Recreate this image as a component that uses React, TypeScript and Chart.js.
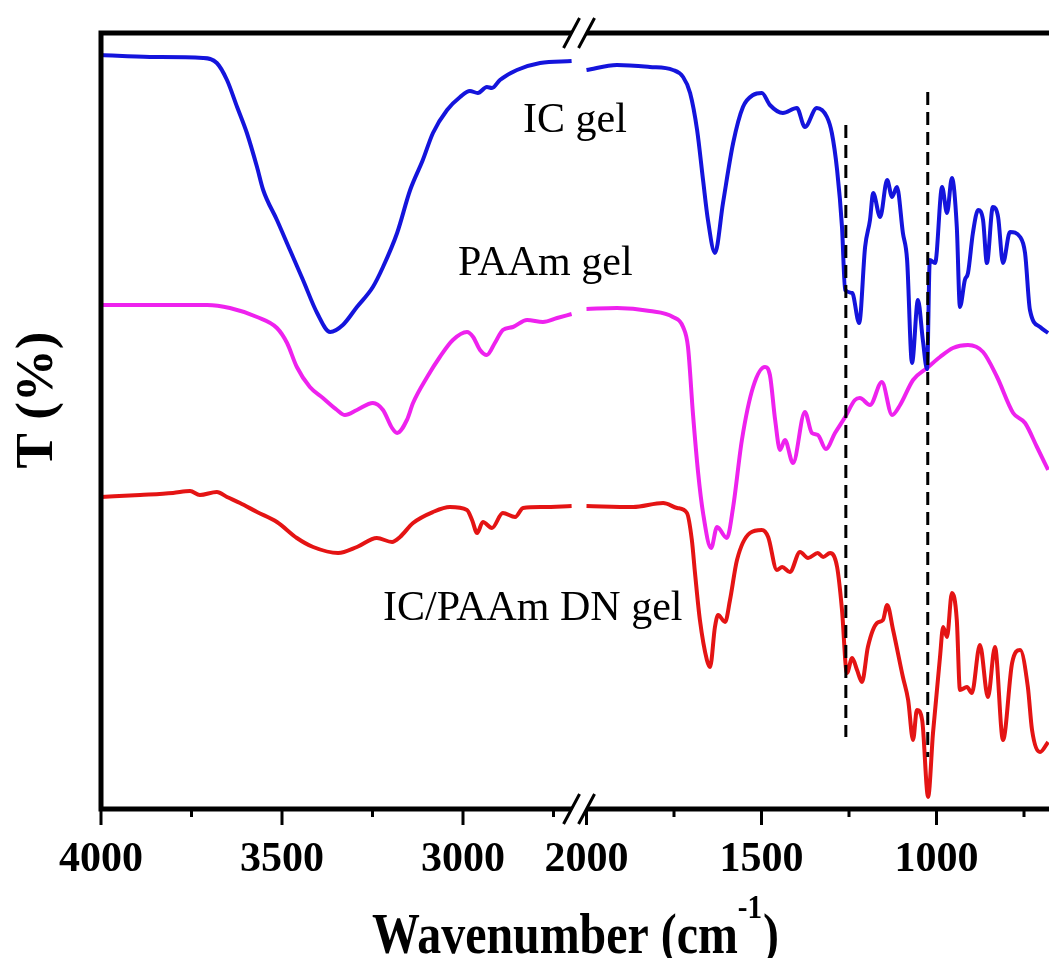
import React, { useEffect, useRef } from "react";
import { Chart, registerables } from "chart.js";

Chart.register(...registerables);

// ---------- data (wavenumber in cm-1, transmittance in offset arbitrary units) ----------
const icWavenumber = [4000, 3865, 3718, 3680, 3652, 3624, 3597, 3569, 3552, 3514, 3478, 3442, 3403, 3367, 3332, 3293, 3249, 3221, 3182, 3146, 3111, 3083, 3044, 3008, 2981, 2959, 2934, 2920, 2898, 2851, 2787, 2700, 2350, 2000, 1913, 1819, 1753, 1724, 1704, 1684, 1667, 1653, 1633, 1610, 1581, 1553, 1524, 1499, 1476, 1439, 1399, 1376, 1342, 1313, 1299, 1284, 1270, 1261, 1241, 1221, 1204, 1190, 1181, 1161, 1141, 1127, 1113, 1096, 1084, 1070, 1053, 1039, 1027, 1019, 1004, 984, 970, 956, 942, 933, 919, 910, 896, 881, 867, 856, 839, 824, 810, 790, 761, 747, 733, 704, 681];
const icT = [754, 752, 751, 746, 729, 702, 676, 642, 619, 589, 559, 529, 496, 477, 484, 502, 522, 542, 576, 619, 649, 676, 699, 712, 718, 716, 722, 721, 729, 739, 746, 748, null, 739, 744, 742, 739, 732, 716, 679, 629, 589, 556, 606, 666, 702, 714, 716, 704, 696, 701, 682, 701, 692, 676, 639, 582, 519, 516, 486, 562, 589, 616, 592, 629, 612, 622, 576, 549, 446, 509, 469, 440, 549, 546, 622, 596, 631, 582, 502, 529, 536, 576, 599, 589, 546, 602, 592, 546, 577, 572, 556, 499, 482, 476];

const paamWavenumber = [4000, 3707, 3644, 3569, 3514, 3486, 3459, 3423, 3387, 3348, 3326, 3293, 3249, 3221, 3196, 3182, 3155, 3138, 3099, 3064, 3028, 2989, 2972, 2953, 2934, 2912, 2890, 2862, 2823, 2779, 2740, 2700, 2350, 2000, 1913, 1819, 1753, 1724, 1710, 1696, 1681, 1667, 1644, 1627, 1599, 1581, 1556, 1524, 1490, 1476, 1461, 1447, 1433, 1410, 1376, 1356, 1339, 1316, 1290, 1261, 1233, 1219, 1190, 1156, 1127, 1104, 1067, 1027, 990, 953, 910, 867, 827, 781, 747, 713, 681];
const paamT = [504, 504, 501, 492, 481, 466, 442, 422, 411, 399, 394, 399, 406, 399, 381, 376, 389, 406, 432, 452, 469, 477, 472, 459, 454, 466, 479, 482, 489, 487, 491, 495, null, 500, 501, 498, 492, 482, 462, 396, 336, 296, 261, 282, 271, 302, 369, 422, 442, 434, 389, 359, 369, 346, 397, 376, 374, 360, 376, 392, 409, 411, 404, 427, 394, 404, 429, 441, 452, 461, 464, 457, 432, 396, 386, 362, 339];

const dnWavenumber = [4000, 3892, 3801, 3754, 3727, 3680, 3652, 3616, 3569, 3514, 3459, 3414, 3345, 3293, 3238, 3196, 3174, 3138, 3083, 3036, 2989, 2975, 2961, 2945, 2920, 2890, 2856, 2834, 2779, 2700, 2350, 2000, 1867, 1781, 1741, 1713, 1699, 1690, 1676, 1656, 1647, 1633, 1624, 1604, 1590, 1570, 1533, 1499, 1481, 1456, 1441, 1419, 1390, 1367, 1339, 1324, 1304, 1284, 1270, 1256, 1241, 1227, 1213, 1196, 1170, 1153, 1141, 1124, 1096, 1081, 1067, 1056, 1041, 1024, 1010, 990, 981, 970, 956, 942, 933, 913, 899, 876, 853, 833, 810, 784, 761, 739, 727, 704, 681];
const dnT = [312, 314, 316, 318, 314, 317, 312, 306, 297, 287, 271, 262, 256, 262, 271, 267, 272, 286, 297, 302, 299, 289, 276, 287, 281, 296, 292, 301, 302, 303, null, 303, 302, 306, 301, 296, 269, 236, 189, 149, 142, 182, 194, 187, 209, 249, 276, 279, 272, 239, 242, 237, 257, 251, 256, 252, 256, 242, 199, 136, 151, 139, 127, 162, 186, 189, 204, 179, 132, 109, 69, 99, 89, 12, 76, 152, 182, 172, 216, 189, 119, 122, 116, 164, 112, 162, 69, 146, 159, 122, 79, 57, 67];

const seriesNames = ["IC gel", "PAAm gel", "IC/PAAm DN gel"];
const labelWavenumber = [2834, 3014, 3221];
const labelT = [677, 534, 189];

const dashedWavenumber = [1259, 1025];
const dashedTop = [684, 717];
const dashedBottom = [72, 52];

const majorTicks = [4000, 3500, 3000, 2000, 1500, 1000];
const minorTicks = [3750, 3250, 2750, 1750, 1250, 750];

// ---------- broken axis mapping ----------
const LEFT_START = 4000;
const LEFT_END = 2700;
const RIGHT_START = 2000;
const LEFT_RATE = 0.362;
const RIGHT_RATE = 0.35;
const RIGHT_OFFSET = 485.5;
const X_MAX = 948;
const Y_MAX = 776;

function axisPos(wn: number): number {
  if (wn >= LEFT_END) return (LEFT_START - wn) * LEFT_RATE;
  if (wn <= RIGHT_START) return RIGHT_OFFSET + (RIGHT_START - wn) * RIGHT_RATE;
  const a = (LEFT_START - LEFT_END) * LEFT_RATE;
  return a + ((LEFT_END - wn) / (LEFT_END - RIGHT_START)) * (RIGHT_OFFSET - a);
}

function toPoints(wn: number[], t: (number | null)[]) {
  return wn.map((w, i) => ({ x: axisPos(w), y: t[i] }));
}

const SERIF = '"Liberation Serif", "Times New Roman", serif';
const COLORS = ["#1414dc", "#ee22ee", "#e41414"];

const framePlugin = {
  id: "framePlugin",
  afterDatasetsDraw(chart: any) {
    const { ctx, scales } = chart;
    const xs = scales.x;
    const ys = scales.y;
    ctx.save();
    ctx.fillStyle = "#000";
    ctx.font = `42px ${SERIF}`;
    ctx.textAlign = "left";
    ctx.textBaseline = "alphabetic";
    seriesNames.forEach((name, i) => {
      ctx.fillText(name, xs.getPixelForValue(axisPos(labelWavenumber[i])), ys.getPixelForValue(labelT[i]));
    });
    ctx.restore();
  },
  afterDraw(chart: any) {
    const { ctx, chartArea, scales } = chart;
    const { left, right, top, bottom } = chartArea;
    const xs = scales.x;
    ctx.save();
    ctx.strokeStyle = "#000";
    ctx.lineCap = "butt";
    ctx.lineWidth = 5;
    ctx.beginPath();
    ctx.moveTo(left, top - 2.5);
    ctx.lineTo(left, bottom + 2.5);
    ctx.moveTo(left, top);
    ctx.lineTo(right, top);
    ctx.moveTo(left, bottom);
    ctx.lineTo(right, bottom);
    ctx.stroke();

    // axis break marks
    const cx = xs.getPixelForValue((axisPos(LEFT_END) + axisPos(RIGHT_START)) / 2);
    const c1 = cx - 7.5;
    const c2 = cx + 7.5;
    [top, bottom].forEach((yy) => {
      ctx.fillStyle = "#fff";
      ctx.beginPath();
      ctx.moveTo(c1 - 2, yy + 4);
      ctx.lineTo(c2 - 2, yy + 4);
      ctx.lineTo(c2 + 2, yy - 4);
      ctx.lineTo(c1 + 2, yy - 4);
      ctx.closePath();
      ctx.fill();
      ctx.lineWidth = 3;
      ctx.beginPath();
      [c1, c2].forEach((c) => {
        ctx.moveTo(c - 8, yy + 15);
        ctx.lineTo(c + 8, yy - 15);
      });
      ctx.stroke();
    });

    // ticks
    ctx.lineWidth = 3;
    ctx.beginPath();
    majorTicks.forEach((wn) => {
      const px = xs.getPixelForValue(axisPos(wn));
      ctx.moveTo(px, bottom);
      ctx.lineTo(px, bottom + 16);
    });
    minorTicks.forEach((wn) => {
      const px = xs.getPixelForValue(axisPos(wn));
      ctx.moveTo(px, bottom);
      ctx.lineTo(px, bottom + 8);
    });
    ctx.stroke();

    ctx.fillStyle = "#000";
    ctx.font = `bold 42px ${SERIF}`;
    ctx.textAlign = "center";
    ctx.textBaseline = "alphabetic";
    majorTicks.forEach((wn) => {
      const px = xs.getPixelForValue(axisPos(wn));
      ctx.fillText(String(wn), px, bottom + 62);
    });

    // x title with superscript
    const sx = 0.855;
    const mainFont = `bold 56px ${SERIF}`;
    const supFont = `bold 34px ${SERIF}`;
    ctx.font = mainFont;
    const w1 = ctx.measureText("Wavenumber (cm").width * sx;
    const w3 = ctx.measureText(")").width * sx;
    ctx.font = supFont;
    const w2 = ctx.measureText("-1").width * sx;
    const total = w1 + w2 + w3;
    let startX = (left + right) / 2 - total / 2;
    const base = bottom + 144;
    ctx.textAlign = "left";
    const drawScaled = (txt: string, font: string, x: number, y: number) => {
      ctx.save();
      ctx.font = font;
      ctx.translate(x, y);
      ctx.scale(sx, 1);
      ctx.fillText(txt, 0, 0);
      ctx.restore();
    };
    drawScaled("Wavenumber (cm", mainFont, startX, base);
    drawScaled("-1", supFont, startX + w1, base - 35);
    drawScaled(")", mainFont, startX + w1 + w2 + 1, base);

    // y title
    ctx.save();
    ctx.translate(left - 49, (top + bottom) / 2 - 21);
    ctx.rotate(-Math.PI / 2);
    ctx.font = `bold 53px ${SERIF}`;
    ctx.textAlign = "center";
    ctx.fillText("T (%)", 0, 0);
    ctx.restore();

    ctx.restore();
  },
};

export default function App() {
  const canvasRef = useRef<HTMLCanvasElement | null>(null);

  useEffect(() => {
    if (!canvasRef.current) return;
    const curves = [
      { wn: icWavenumber, t: icT },
      { wn: paamWavenumber, t: paamT },
      { wn: dnWavenumber, t: dnT },
    ];
    const datasets: any[] = [];
    dashedWavenumber.forEach((wn, i) => {
      datasets.push({
        label: `marker ${wn}`,
        data: [
          { x: axisPos(wn), y: dashedTop[i] },
          { x: axisPos(wn), y: dashedBottom[i] },
        ],
        borderColor: "#000",
        borderWidth: 3,
        borderDash: [13, 7],
        pointRadius: 0,
        order: 0,
      });
    });
    curves.forEach((c, i) => {
      datasets.push({
        label: seriesNames[i],
        data: toPoints(c.wn, c.t),
        borderColor: COLORS[i],
        borderWidth: 4,
        pointRadius: 0,
        cubicInterpolationMode: "monotone",
        spanGaps: false,
        order: 1,
      });
    });

    const chart = new Chart(canvasRef.current, {
      type: "line",
      data: { datasets },
      options: {
        animation: false,
        responsive: false,
        devicePixelRatio: 1,
        events: [],
        layout: { padding: { left: 101, top: 33, right: 0, bottom: 149 } },
        scales: {
          x: { type: "linear", min: 0, max: X_MAX, display: false },
          y: { type: "linear", min: 0, max: Y_MAX, display: false },
        },
        plugins: {
          legend: { display: false },
          tooltip: { enabled: false },
        },
      },
      plugins: [framePlugin],
    });
    return () => chart.destroy();
  }, []);

  return (
    <div style={{ position: "fixed", left: 0, top: 0, width: 1049, height: 958, background: "#fff" }}>
      <canvas ref={canvasRef} width={1049} height={958} style={{ display: "block" }} />
    </div>
  );
}
